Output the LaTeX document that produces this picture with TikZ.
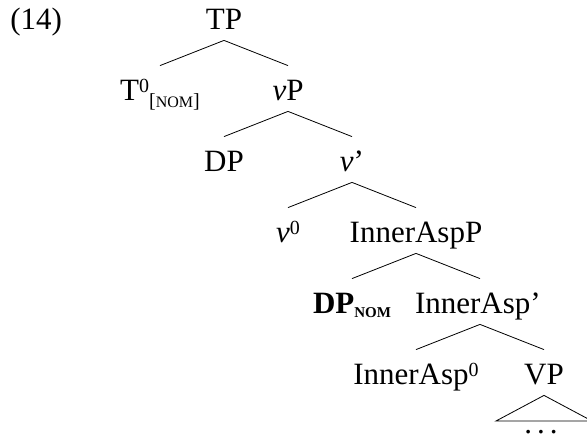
\documentclass[tikz,border=0pt]{standalone}
\usepackage{fontspec}
\setmainfont{Liberation Serif}
\newcommand{\supz}{\raisebox{8pt}{\fontsize{20}{20}\selectfont 0}}
\newcommand{\nomsub}{\raisebox{-7pt}{\fontsize{20}{20}\selectfont [{\fontsize{16}{16}\selectfont NOM}]}}
\newcommand{\nombf}{\raisebox{-4pt}{\fontsize{15}{15}\selectfont\bfseries NOM}}
\newcommand{\puntini}{.\kern5pt.\kern5pt.}

\begin{document}
\begin{tikzpicture}[x=1pt,y=-1pt,line width=0.8pt,
    lab/.style={anchor=base,inner xsep=0pt,inner ysep=0pt,text height=35pt,text depth=10pt,
                font=\fontsize{31}{37}\selectfont}]
            \useasboundingbox (0,0) rectangle (587,438);
            %numero
            \node[anchor=base west,inner sep=0pt,font=\fontsize{31}{37}\selectfont] (ex) at (10,30) {(14)};
            %nodi
            \node[lab] (TP) at (224,30) {TP};
            \node[lab] (T0) at (160,101) {T\supz\nomsub};
            \node[lab] (vP) at (288,101) {\textit{v}P};
            \node[lab] (DP) at (224,172) {DP};
            \node[lab] (vbar) at (352,172) {\textit{v}'};
            \node[lab] (v0) at (288,243) {\textit{v}\supz};
            \node[lab] (AspP) at (416,243) {InnerAspP};
            \node[lab] (DPnom) at (352,314) {\textbf{DP}\nombf};
            \node[lab,text width=130pt,align=left] (Aspbar) at (480,314) {InnerAsp'};
            \node[lab] (Asp0) at (416,385) {InnerAsp\supz};
            \node[lab] (VP) at (544,385) {VP};
            %rami
            \draw (TP.south) -- (T0.north);
            \draw (TP.south) -- (vP.north);
            \draw (vP.south) -- (DP.north);
            \draw (vP.south) -- (vbar.north);
            \draw (vbar.south) -- (v0.north);
            \draw (vbar.south) -- (AspP.north);
            \draw (AspP.south) -- (DPnom.north);
            \draw (AspP.south) -- (Aspbar.north);
            \draw (Aspbar.south) -- (Asp0.north);
            \draw (Aspbar.south) -- (VP.north);
            %triangolo
            \coordinate (triL) at (496,421);
            \coordinate (triR) at (592,421);
            \draw (VP.south) -- (triL) -- (triR) -- cycle;
            \node[anchor=base,inner sep=0pt,font=\fontsize{31}{37}\selectfont] (dots) at (541,434) {\puntini};
        \end{tikzpicture}
\end{document}
